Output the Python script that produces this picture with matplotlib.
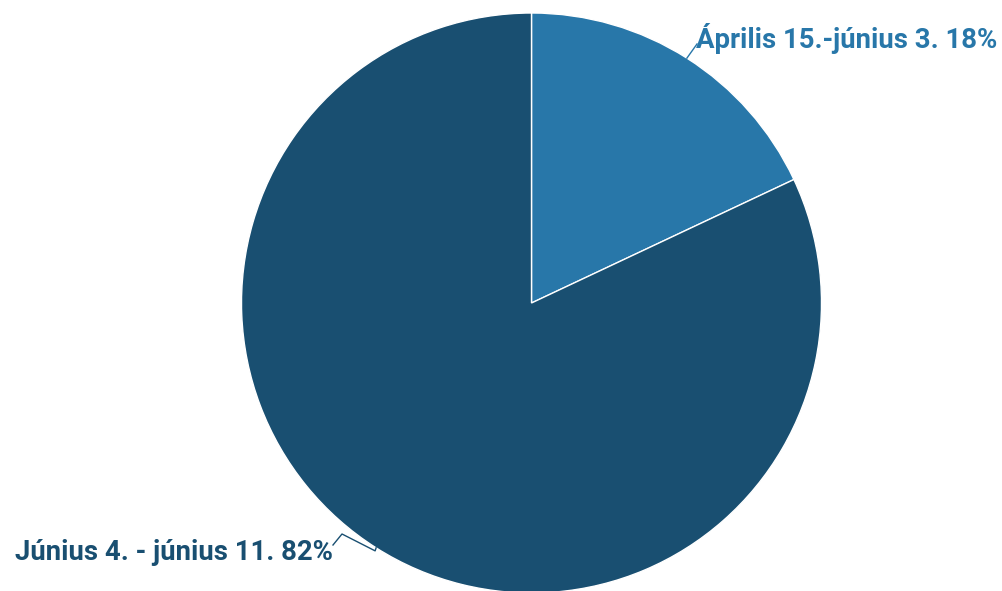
import numpy as np
import matplotlib

matplotlib.use("Agg")
import matplotlib.pyplot as plt

# ── Data ──────────────────────────────────────────────────────
labels = ["Április 15.-június 3.", "Június 4. - június 11."]
shares = [18, 82]
colors = ["#2877a9", "#194f71"]

plt.rcParams["font.family"] = ["Roboto", "DejaVu Sans"]

W, H = 1002, 591
fig = plt.figure(figsize=(W / 100, H / 100), dpi=100)
ax = fig.add_axes([0, 0, 1, 1])

cx, cy, r = 531.5, H - 303, 290
ax.pie(
    shares,
    colors=colors,
    startangle=90,
    counterclock=False,
    center=(cx, cy),
    radius=r,
    wedgeprops={"edgecolor": "white", "linewidth": 1},
    frame=True,
)
ax.set_xlim(0, W)
ax.set_ylim(0, H)
ax.set_aspect("equal")
ax.axis("off")

# mid angles (clockwise from 12 o'clock)
cum = np.cumsum([0] + shares)
mids = [(cum[i] + cum[i + 1]) / 2 / sum(shares) * 360 for i in range(len(shares))]

# top-right label
a = np.radians(mids[0])
ex, ey = cx + r * np.sin(a), cy + r * np.cos(a)
ax.plot([ex, 697], [ey, H - 44], color=colors[0], lw=1)
ax.text(696, H - 38, f"{labels[0]} {shares[0]}%", color=colors[0],
        fontsize=19.8, fontweight="bold", ha="left", va="center")

# bottom-left label
a = np.radians(mids[1])
ex, ey = cx + r * np.sin(a), cy + r * np.cos(a)
ax.plot([ex, ex - 1, 342, 333], [ey, ey - 3, H - 534, H - 545],
        color=colors[1], lw=1)
ax.text(333, H - 552, f"{labels[1]} {shares[1]}%", color=colors[1],
        fontsize=19.8, fontweight="bold", ha="right", va="center")

fig.savefig("out.png", dpi=100, facecolor="white")
